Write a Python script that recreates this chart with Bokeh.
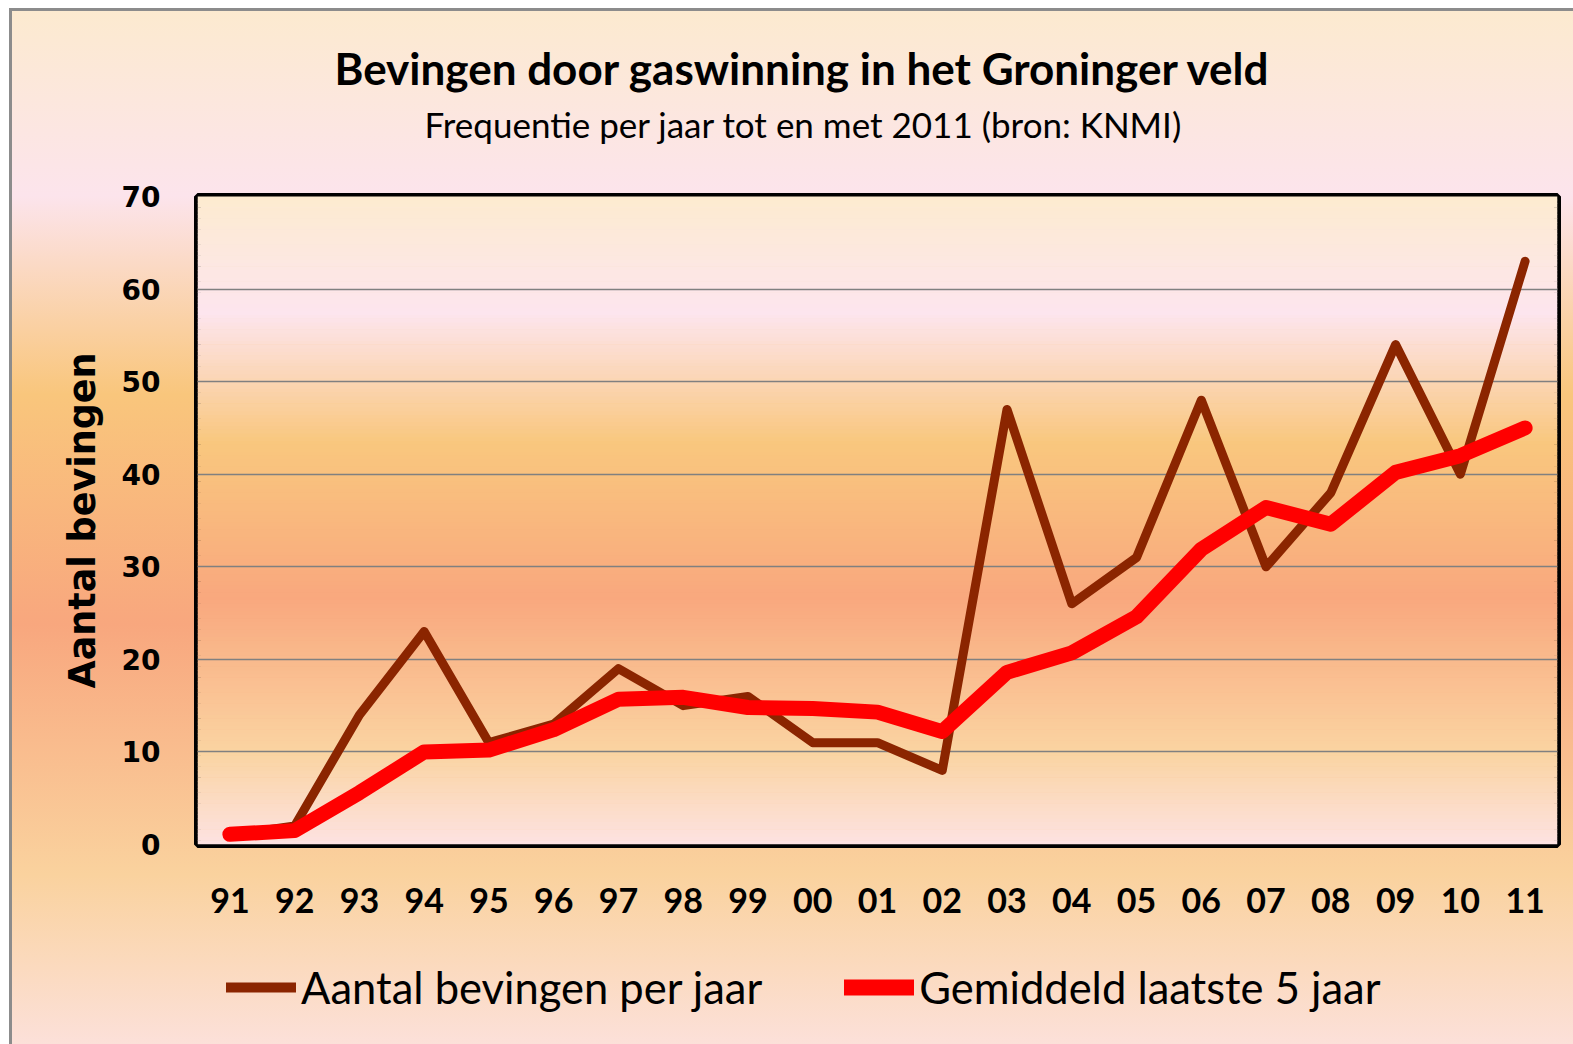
from bokeh.plotting import figure
from bokeh.layouts import column
from bokeh.models import (FactorRange, Range1d, FixedTicker, BoxAnnotation, Title,
                          Legend, LegendItem)
from bokeh.embed import file_html
from bokeh.resources import INLINE

# ---------------- data ----------------
years = ["91", "92", "93", "94", "95", "96", "97", "98", "99", "00", "01",
         "02", "03", "04", "05", "06", "07", "08", "09", "10", "11"]
per_year = [1, 2, 14, 23, 11, 13, 19, 15, 16, 11, 11,
            8, 47, 26, 31, 48, 30, 38, 54, 40, 63]
avg_5yr = [1.1, 1.5, 5.6, 10.0, 10.2, 12.4, 15.7, 15.9, 14.8, 14.7, 14.3,
           12.2, 18.6, 20.7, 24.6, 31.9, 36.4, 34.6, 40.2, 42.0, 45.0]
y_ticks = [0, 10, 20, 30, 40, 50, 60, 70]

title_text = "Bevingen door gaswinning in het Groninger veld"
subtitle_text = "Frequentie per jaar tot en met 2011 (bron: KNMI)"
y_label = "Aantal bevingen"
series_names = ["Aantal bevingen per jaar", "Gemiddeld laatste 5 jaar"]

# ---------------- style ----------------
FONT = "Lato"
BROWN, RED = "#8b2500", "#ff0000"
stops = [(0.00, (253, 235, 208)), (0.18, (253, 229, 238)), (0.38, (249, 199, 126)),
         (0.62, (249, 168, 126)), (0.86, (250, 212, 162)), (1.00, (253, 226, 226))]


def grad(f):
    for (f0, c0), (f1, c1) in zip(stops[:-1], stops[1:]):
        if f0 <= f <= f1:
            t = (f - f0) / (f1 - f0)
            c = [round(a + (b - a) * t) for a, b in zip(c0, c1)]
            return "#%02x%02x%02x" % tuple(c)
    return "#%02x%02x%02x" % stops[-1][1]


MAIN_H = 954
p = figure(width=1573, height=MAIN_H, output_backend="svg", toolbar_location=None,
           x_range=FactorRange(*years), y_range=Range1d(0, 70),
           min_border_left=197, min_border_right=16, min_border_top=196,
           min_border_bottom=MAIN_H - 844)
p.border_fill_color = None
p.background_fill_color = None

# plot-area gradient
ymax = 70.0
n = 175
step = ymax / n
for i in range(n):
    y0 = i * step
    f = 1 - (y0 + step / 2) / ymax
    p.add_layout(BoxAnnotation(bottom=y0, top=y0 + step + 0.05, fill_color=grad(f),
                               fill_alpha=1, line_alpha=0, level="image",
                               editable=False))

p.outline_line_color = "black"
p.outline_line_width = 7

p.xgrid.visible = False
p.ygrid.grid_line_color = "#808080"
p.ygrid.grid_line_width = 1.3
p.yaxis.ticker = FixedTicker(ticks=y_ticks)

for ax in (p.xaxis, p.yaxis):
    ax.axis_line_color = None
    ax.major_tick_line_color = None
    ax.minor_tick_line_color = None
    ax.major_tick_in = 0
    ax.major_tick_out = 0

p.yaxis.major_label_text_font = "DejaVu Sans"
p.yaxis.major_label_text_font_style = "bold"
p.yaxis.major_label_text_font_size = "28px"
p.yaxis.major_label_text_color = "black"
p.yaxis.major_label_standoff = 37
p.yaxis.axis_label = y_label
p.yaxis.axis_label_text_font = "DejaVu Sans"
p.yaxis.axis_label_text_font_style = "bold"
p.yaxis.axis_label_text_font_size = "36.5px"
p.yaxis.axis_label_text_color = "black"
p.yaxis.axis_label_standoff = 15

p.xaxis.major_label_text_font = FONT
p.xaxis.major_label_text_font_style = "bold"
p.xaxis.major_label_text_font_size = "34px"
p.xaxis.major_label_text_color = "black"
p.xaxis.major_label_standoff = 43

p.line(years, per_year, line_color=BROWN, line_width=9,
       line_join="round", line_cap="round")
p.line(years, avg_5yr, line_color=RED, line_width=15,
       line_join="round", line_cap="round")

# titles (spacer between plot area and subtitle)
p.add_layout(Title(text=" ", text_font_size="1px", standoff=42), "above")
p.add_layout(Title(text=subtitle_text, align="left", offset=227, standoff=14,
                   text_font=FONT, text_font_style="normal", text_font_size="35px",
                   text_color="black"), "above")
p.add_layout(Title(text=title_text, align="left", offset=137, standoff=0,
                   text_font=FONT, text_font_style="bold", text_font_size="44px",
                   text_color="black"), "above")

# legend strip below the chart (series re-drawn out of view, only as legend keys)
LEG_H = 1044 - MAIN_H
q = figure(width=1573, height=LEG_H, output_backend="svg", toolbar_location=None,
           x_range=Range1d(0, 1), y_range=Range1d(-2, -1), min_border=0)
q.border_fill_color = None
q.background_fill_color = None
q.outline_line_color = None
q.axis.visible = False
q.grid.visible = False
idx = list(range(len(years)))
k1 = q.line(x=idx, y=per_year, line_color=BROWN, line_width=10, line_cap="round")
k2 = q.line(x=idx, y=avg_5yr, line_color=RED, line_width=16, line_cap="round")
legend = Legend(items=[LegendItem(label=series_names[0], renderers=[k1]),
                       LegendItem(label=series_names[1], renderers=[k2])],
                orientation="horizontal", location=(29, 31),
                glyph_width=70, glyph_height=40, label_standoff=5, spacing=82,
                padding=0, margin=0, background_fill_alpha=0,
                border_line_color=None, label_text_font=FONT,
                label_text_font_size="43.5px", label_text_color="black")
q.add_layout(legend)

page = column(p, q, spacing=0)
page.styles = {
    "background-color": "white",
    "background-image": "linear-gradient(#8c8c8c, #8c8c8c), linear-gradient(#8c8c8c, #8c8c8c), "
                        "linear-gradient(to bottom, #fceacf 0%, #fce4ec 18%, #f9c67c 37%, "
                        "#f8a77e 59%, #fad29e 83%, #fce1dc 100%)",
    "background-size": "100% 3px, 3px 100%, 100% 100%",
    "background-position": "9px 8px, 9px 8px, 9px 8px",
    "background-repeat": "no-repeat",
}

open("out.html", "w").write(file_html(page, INLINE))
